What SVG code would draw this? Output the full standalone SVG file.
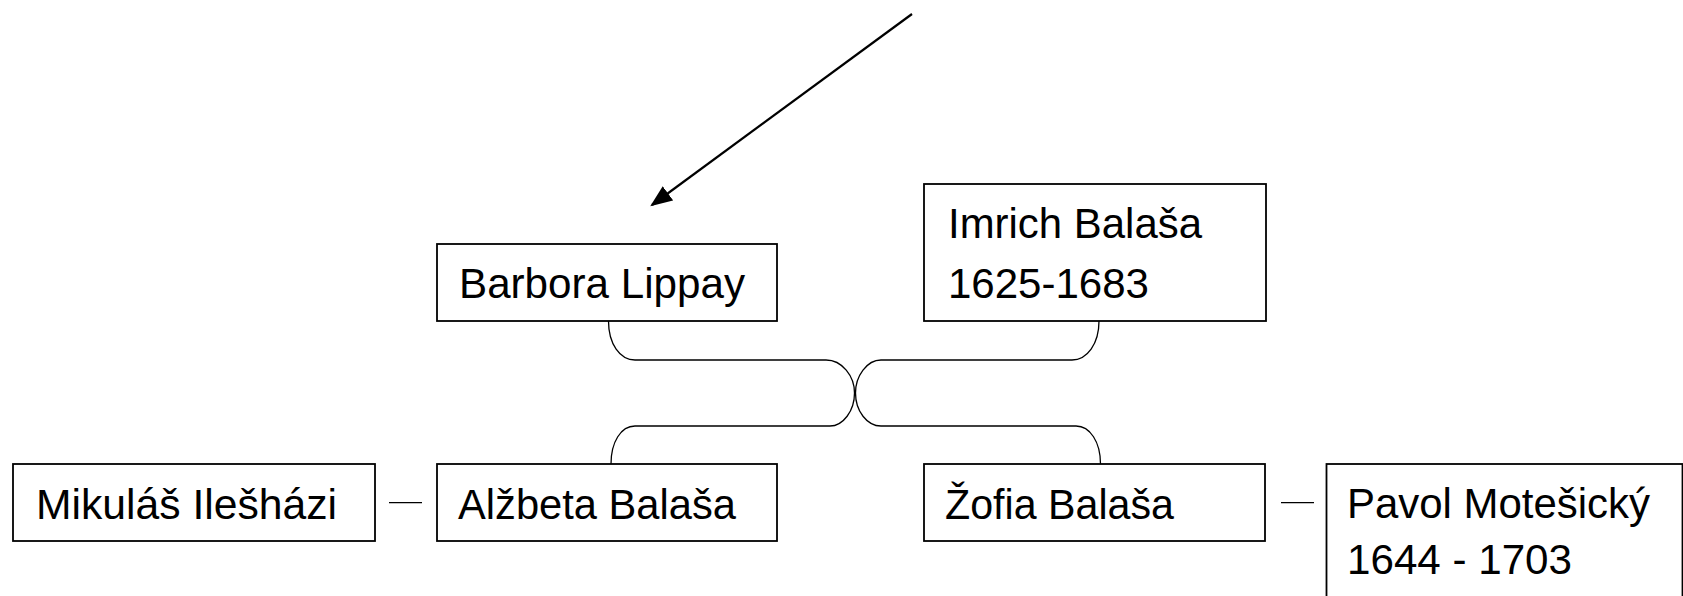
<svg xmlns="http://www.w3.org/2000/svg" width="1683" height="596" viewBox="0 0 1683 596">
<style>
.box{fill:#fff;stroke:#000;stroke-width:1.8}
.t{font-family:"Liberation Sans",Arial,sans-serif;font-size:42px;fill:#000}
.c{fill:none;stroke:#000;stroke-width:1.3}
.a{fill:none;stroke:#000;stroke-width:2.2}
</style>
<defs>
<marker id="ah" markerWidth="10" markerHeight="8" refX="9" refY="4" orient="auto" markerUnits="strokeWidth">
<path d="M0,0 L10,4 L0,8 Z" fill="#000"/>
</marker>
</defs>
<rect width="1683" height="596" fill="#fff"/>
<g id="connectors">
<line class="a" x1="912" y1="14" x2="652" y2="205" marker-end="url(#ah)"/>
<path class="c" d="M608.5,321 C608.5,344 620,360 635,360 L826,360 C842,360 854.5,376 854.5,393 C854.5,411 843,426 830,426 L635,426 C621,426 611,442 611,464"/>
<path class="c" d="M1099,321 C1099,344 1087,360 1072,360 L881,360 C867,360 855.5,376 855.5,393 C855.5,411 867,426 881,426 L1076,426 C1090,426 1100.5,442 1100.5,464"/>
<line class="c" x1="389" y1="502.7" x2="422" y2="502.7"/>
<line class="c" x1="1281" y1="502.7" x2="1314" y2="502.7"/>
</g>
<g id="barbora">
<rect class="box" x="437" y="244" width="340" height="77"/>
<text class="t" x="459" y="298" textLength="286" lengthAdjust="spacingAndGlyphs">Barbora Lippay</text>
</g>
<g id="imrich">
<rect class="box" x="924" y="184" width="342" height="137"/>
<text class="t" x="948" y="238" textLength="254" lengthAdjust="spacingAndGlyphs">Imrich Balaša</text>
<text class="t" x="948" y="298" textLength="201" lengthAdjust="spacingAndGlyphs">1625-1683</text>
</g>
<g id="mikulas">
<rect class="box" x="13" y="464" width="362" height="77"/>
<text class="t" x="36" y="519" textLength="301" lengthAdjust="spacingAndGlyphs">Mikuláš Ilešházi</text>
</g>
<g id="alzbeta">
<rect class="box" x="437" y="464" width="340" height="77"/>
<text class="t" x="458" y="519" textLength="278" lengthAdjust="spacingAndGlyphs">Alžbeta Balaša</text>
</g>
<g id="zofia">
<rect class="box" x="924" y="464" width="341" height="77"/>
<text class="t" x="945" y="519" textLength="229" lengthAdjust="spacingAndGlyphs">Žofia Balaša</text>
</g>
<g id="pavol">
<rect class="box" x="1326.5" y="464" width="356" height="150"/>
<text class="t" x="1347" y="518" textLength="303" lengthAdjust="spacingAndGlyphs">Pavol Motešický</text>
<text class="t" x="1347" y="574" textLength="225" lengthAdjust="spacingAndGlyphs">1644 - 1703</text>
</g>
</svg>
